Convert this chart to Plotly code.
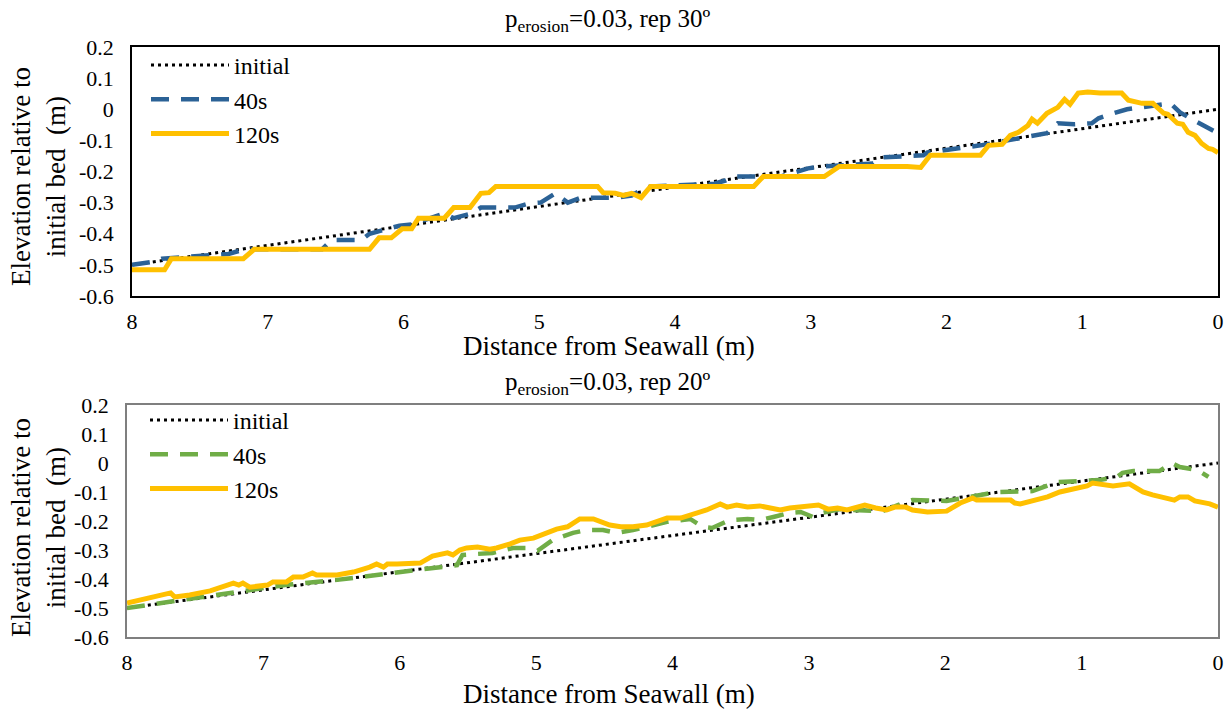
import plotly.graph_objects as go

# ---------------- data ----------------
# Top panel (rep 30º)
top_init_x = [8, 0]
top_init_y = [-0.5, 0.0]

top_40_x = [8.0, 7.85, 7.78, 7.29, 7.17, 6.60, 6.53, 6.31, 6.25, 6.11, 6.03, 5.94, 5.70, 5.63, 5.50,
            5.43, 5.18, 5.08, 4.99, 4.88, 4.79, 4.69, 4.44, 4.32, 4.25, 4.18, 3.71, 3.63, 3.57, 3.22,
            3.02, 2.93, 2.54, 2.49, 2.17, 2.14, 1.75, 1.55, 1.36, 1.26, 1.18, 1.06, 0.93, 0.88, 0.77,
            0.67, 0.35, 0.28, 0.18, 0.11, 0.0]
top_40_y = [-0.50, -0.49, -0.48, -0.465, -0.45, -0.45, -0.42, -0.42, -0.40, -0.384, -0.374, -0.37,
            -0.335, -0.35, -0.335, -0.316, -0.316, -0.303, -0.30, -0.27, -0.30, -0.284, -0.284,
            -0.277, -0.26, -0.248, -0.239, -0.229, -0.216, -0.216, -0.19, -0.184, -0.174, -0.155,
            -0.148, -0.139, -0.116, -0.10, -0.084, -0.077, -0.045, -0.048, -0.045, -0.029, -0.013,
            0.0, 0.019, -0.01, -0.035, -0.052, -0.077]

top_120_x = [8.0, 7.76, 7.71, 7.18, 7.10, 6.25, 6.18, 6.09, 6.01, 5.94, 5.89, 5.70, 5.63, 5.51, 5.43,
             5.37, 5.32, 4.79, 4.76, 4.57, 4.53, 4.44, 4.38, 4.32, 4.25, 4.18, 3.42, 3.35, 2.90, 2.79,
             2.29, 2.19, 2.12, 1.75, 1.69, 1.59, 1.53, 1.47, 1.40, 1.37, 1.33, 1.26, 1.18, 1.13, 1.09,
             1.03, 0.96, 0.87, 0.71, 0.66, 0.56, 0.48, 0.40, 0.37, 0.30, 0.26, 0.22, 0.17, 0.12, 0.07,
             0.04, 0.0]
top_120_y = [-0.516, -0.516, -0.48, -0.48, -0.45, -0.45, -0.413, -0.413, -0.384, -0.384, -0.35, -0.35,
             -0.316, -0.316, -0.27, -0.268, -0.248, -0.248, -0.245, -0.248, -0.268, -0.27, -0.277,
             -0.27, -0.284, -0.248, -0.248, -0.216, -0.216, -0.184, -0.184, -0.187, -0.148, -0.148,
             -0.116, -0.113, -0.084, -0.074, -0.052, -0.032, -0.045, -0.013, 0.006, 0.032, 0.016,
             0.052, 0.055, 0.052, 0.052, 0.029, 0.019, 0.019, -0.013, -0.016, -0.045, -0.048, -0.074,
             -0.084, -0.11, -0.126, -0.129, -0.139]

# Bottom panel (rep 20º)
bot_init_x = [8, 0]
bot_init_y = [-0.5, 0.0]

bot_40_x = [8.0, 7.32, 6.83, 6.46, 5.85, 5.70, 5.58, 5.54, 5.32, 5.17, 5.07, 4.99, 4.95, 4.88, 4.73,
            4.63, 4.51, 4.41, 4.29, 4.19, 4.04, 3.87, 3.78, 3.71, 3.58, 3.45, 3.36, 3.26, 3.14, 3.06,
            2.97, 2.90, 2.77, 2.68, 2.46, 2.31, 2.24, 1.99, 1.87, 1.77, 1.62, 1.36, 1.28, 1.18, 1.01,
            0.87, 0.74, 0.70, 0.62, 0.43, 0.34, 0.28, 0.15, 0.07]
bot_40_y = [-0.50, -0.455, -0.42, -0.403, -0.366, -0.359, -0.352, -0.317, -0.31, -0.293, -0.293,
            -0.303, -0.29, -0.266, -0.241, -0.231, -0.231, -0.241, -0.231, -0.22, -0.203, -0.193,
            -0.22, -0.224, -0.197, -0.193, -0.197, -0.186, -0.172, -0.169, -0.186, -0.172, -0.159,
            -0.162, -0.166, -0.138, -0.128, -0.131, -0.121, -0.11, -0.10, -0.097, -0.083, -0.066,
            -0.062, -0.059, -0.048, -0.034, -0.028, -0.028, 0.0, -0.014, -0.024, -0.048]

bot_120_x = [8.0, 7.90, 7.76, 7.68, 7.65, 7.54, 7.39, 7.32, 7.22, 7.18, 7.15, 7.10, 6.97, 6.93, 6.83,
             6.78, 6.71, 6.64, 6.61, 6.46, 6.34, 6.22, 6.17, 6.12, 6.09, 6.02, 5.92, 5.85, 5.76, 5.65,
             5.61, 5.56, 5.51, 5.43, 5.34, 5.29, 5.19, 5.12, 5.02, 4.95, 4.85, 4.77, 4.68, 4.58, 4.51,
             4.46, 4.38, 4.29, 4.19, 4.14, 4.04, 3.94, 3.87, 3.75, 3.65, 3.60, 3.53, 3.45, 3.36, 3.21,
             3.14, 3.06, 3.01, 2.93, 2.86, 2.79, 2.72, 2.66, 2.59, 2.51, 2.43, 2.37, 2.29, 2.24, 2.13,
             1.99, 1.89, 1.80, 1.77, 1.52, 1.49, 1.45, 1.40, 1.34, 1.25, 1.16, 1.09, 1.05, 0.96, 0.92,
             0.84, 0.77, 0.65, 0.55, 0.48, 0.32, 0.28, 0.22, 0.17, 0.12, 0.06, 0.0]
bot_120_y = [-0.483, -0.472, -0.455, -0.448, -0.462, -0.455, -0.441, -0.428, -0.414, -0.421, -0.414,
             -0.428, -0.421, -0.41, -0.41, -0.393, -0.393, -0.379, -0.386, -0.386, -0.376, -0.359,
             -0.348, -0.359, -0.348, -0.348, -0.345, -0.345, -0.321, -0.31, -0.317, -0.30, -0.293,
             -0.29, -0.297, -0.293, -0.279, -0.266, -0.259, -0.248, -0.228, -0.22, -0.193, -0.193,
             -0.207, -0.214, -0.22, -0.22, -0.214, -0.207, -0.19, -0.19, -0.179, -0.162, -0.141,
             -0.152, -0.145, -0.152, -0.148, -0.162, -0.155, -0.152, -0.152, -0.145, -0.159, -0.155,
             -0.162, -0.155, -0.145, -0.155, -0.162, -0.152, -0.152, -0.162, -0.169, -0.166, -0.138,
             -0.121, -0.128, -0.128, -0.138, -0.141, -0.135, -0.128, -0.117, -0.10, -0.093, -0.086,
             -0.079, -0.069, -0.076, -0.079, -0.072, -0.10, -0.11, -0.128, -0.117, -0.117, -0.131,
             -0.134, -0.141, -0.152]

x_ticks = [0, 1, 2, 3, 4, 5, 6, 7, 8]
y_ticks = [0.2, 0.1, 0, -0.1, -0.2, -0.3, -0.4, -0.5, -0.6]
y_tick_labels = ["0.2", "0.1", "0", "-0.1", "-0.2", "-0.3", "-0.4", "-0.5", "-0.6"]

series_names = ["initial", "40s", "120s"]
titles = ["p<sub>erosion</sub>=0.03, rep 30º", "p<sub>erosion</sub>=0.03, rep 20º"]
x_title = "Distance from Seawall (m)"
y_title = "Elevation relative to<br>initial bed  (m)"

# ---------------- styles ----------------
FONT = "Liberation Serif"
YELLOW = "#FFC000"
BLUE = "#2B6296"
GREEN = "#70AD47"

fig = go.Figure()

# Top panel
fig.add_trace(go.Scatter(x=top_init_x, y=top_init_y, mode="lines", name=series_names[0],
                         line=dict(color="black", width=3, dash="3px,4px"),
                         xaxis="x", yaxis="y", legend="legend"))
fig.add_trace(go.Scatter(x=top_40_x, y=top_40_y, mode="lines", name=series_names[1],
                         line=dict(color=BLUE, width=4.5, dash="18px,12px"),
                         xaxis="x", yaxis="y", legend="legend"))
fig.add_trace(go.Scatter(x=top_120_x, y=top_120_y, mode="lines", name=series_names[2],
                         line=dict(color=YELLOW, width=5),
                         xaxis="x", yaxis="y", legend="legend"))

# Bottom panel
fig.add_trace(go.Scatter(x=bot_init_x, y=bot_init_y, mode="lines", name=series_names[0],
                         line=dict(color="black", width=3, dash="3px,4px"),
                         xaxis="x2", yaxis="y2", legend="legend2"))
fig.add_trace(go.Scatter(x=bot_40_x, y=bot_40_y, mode="lines", name=series_names[1],
                         line=dict(color=GREEN, width=4.5, dash="18px,12px"),
                         xaxis="x2", yaxis="y2", legend="legend2"))
fig.add_trace(go.Scatter(x=bot_120_x, y=bot_120_y, mode="lines", name=series_names[2],
                         line=dict(color=YELLOW, width=5),
                         xaxis="x2", yaxis="y2", legend="legend2"))

W, H = 1224, 711


def px_x(p):
    return min(1.0, max(0.0, p / W))


def px_y(p):
    return min(1.0, max(0.0, 1 - p / H))


common_x = dict(range=[8, 0], tickvals=x_ticks, ticktext=[str(v) for v in x_ticks],
                showgrid=False, zeroline=False, mirror=True, ticks="", automargin=False,
                tickfont=dict(family=FONT, size=22, color="black"), ticklabelstandoff=5)
common_y = dict(range=[-0.6, 0.2], tickvals=y_ticks, ticktext=y_tick_labels,
                showgrid=False, zeroline=False, mirror=True, ticks="", automargin=False,
                tickfont=dict(family=FONT, size=22, color="black"), ticklabelstandoff=12)

legend_common = dict(font=dict(family=FONT, size=24, color="black"), bgcolor="rgba(0,0,0,0)",
                     itemwidth=78, tracegroupgap=0, xanchor="left", yanchor="top",
                     traceorder="normal")

fig.update_layout(
    width=W, height=H,
    margin=dict(l=0, r=0, t=0, b=0, pad=0, autoexpand=False),
    paper_bgcolor="white", plot_bgcolor="white",
    font=dict(family=FONT, color="black"),
    xaxis=dict(domain=[px_x(132), px_x(1218)], anchor="y", showline=True, linecolor="black",
               linewidth=1.5, **common_x),
    yaxis=dict(domain=[px_y(296), px_y(47)], anchor="x", showline=True, linecolor="black",
               linewidth=1.5, **common_y),
    xaxis2=dict(domain=[px_x(127), px_x(1218)], anchor="y2", showline=True, linecolor="#7F7F7F",
                linewidth=1.5, **common_x),
    yaxis2=dict(domain=[px_y(637), px_y(405)], anchor="x2", showline=True, linecolor="#7F7F7F",
                linewidth=1.5, **common_y),
    legend=dict(x=px_x(146), y=px_y(43), **legend_common),
    legend2=dict(x=px_x(145), y=px_y(398), **legend_common),
    showlegend=True,
)

annotations = [
    dict(text=titles[0], x=px_x(608), y=px_y(20), xref="paper", yref="paper", showarrow=False,
         font=dict(family=FONT, size=25, color="black"), xanchor="center", yanchor="middle"),
    dict(text=titles[1], x=px_x(608), y=px_y(383), xref="paper", yref="paper", showarrow=False,
         font=dict(family=FONT, size=25, color="black"), xanchor="center", yanchor="middle"),
    dict(text=x_title, x=px_x(609), y=px_y(346), xref="paper", yref="paper", showarrow=False,
         font=dict(family=FONT, size=27, color="black"), xanchor="center", yanchor="middle"),
    dict(text=x_title, x=px_x(609), y=px_y(694), xref="paper", yref="paper", showarrow=False,
         font=dict(family=FONT, size=27, color="black"), xanchor="center", yanchor="middle"),
    dict(text=y_title, x=px_x(38), y=px_y(177), xref="paper", yref="paper", showarrow=False,
         textangle=-90, font=dict(family=FONT, size=27, color="black"), xanchor="center",
         yanchor="middle"),
    dict(text=y_title, x=px_x(38), y=px_y(528), xref="paper", yref="paper", showarrow=False,
         textangle=-90, font=dict(family=FONT, size=27, color="black"), xanchor="center",
         yanchor="middle"),
]
fig.update_layout(annotations=annotations)

# remove the default 8px page margin so the 1224x711 figure fills the window exactly
fig.write_html("out.html", config={"displayModeBar": False},
               post_script="document.body.style.margin='0';"
                           "document.body.style.overflow='hidden';")
